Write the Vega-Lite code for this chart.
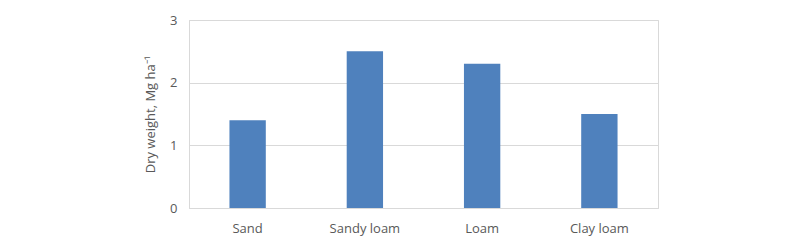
{
  "$schema": "https://vega.github.io/schema/vega-lite/v6.json",
  "width": 469,
  "height": 188,
  "autosize": {"type": "none"},
  "padding": {"left": 189, "top": 20, "right": 142, "bottom": 42},
  "background": "white",
  "config": {
    "view": {"stroke": "#d9d9d9", "strokeWidth": 1},
    "font": "Open Sans"
  },
  "data": {
    "values": [
      {"soil": "Sand", "dry_weight": 1.4},
      {"soil": "Sandy loam", "dry_weight": 2.5},
      {"soil": "Loam", "dry_weight": 2.3},
      {"soil": "Clay loam", "dry_weight": 1.5}
    ]
  },
  "mark": {"type": "bar", "color": "#4f81bd"},
  "encoding": {
    "x": {
      "field": "soil",
      "type": "nominal",
      "sort": null,
      "scale": {"paddingInner": 0.69, "paddingOuter": 0.345},
      "axis": {
        "title": null,
        "labelAngle": 0,
        "labelFontSize": 13,
        "labelColor": "#595959",
        "labelPadding": 14,
        "ticks": false,
        "domainColor": "#d9d9d9"
      }
    },
    "y": {
      "field": "dry_weight",
      "type": "quantitative",
      "scale": {"domain": [0, 3]},
      "axis": {
        "title": "Dry weight, Mg ha⁻¹",
        "titleFontSize": 13,
        "titleFontWeight": "normal",
        "titleColor": "#595959",
        "titlePadding": 12,
        "values": [0, 1, 2, 3],
        "labelFontSize": 13,
        "labelColor": "#595959",
        "labelPadding": 12,
        "ticks": false,
        "domainColor": "#d9d9d9",
        "gridColor": "#d9d9d9"
      }
    }
  }
}
